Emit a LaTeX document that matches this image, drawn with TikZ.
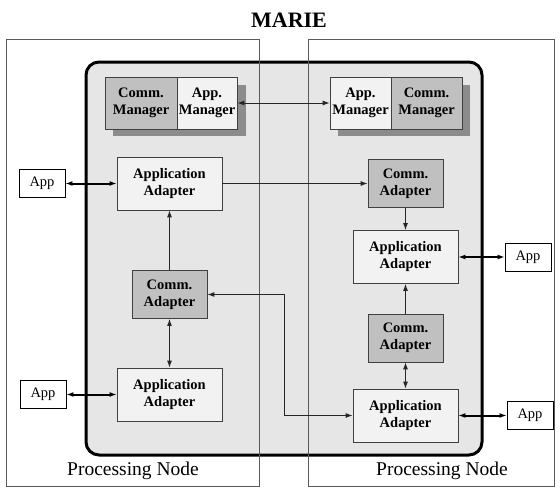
\documentclass[tikz,border=0pt]{standalone}
\usepackage{fontspec}
\setmainfont{Liberation Serif}
\usetikzlibrary{arrows.meta,positioning}
\definecolor{panel}{HTML}{E6E6E6}
\definecolor{commgray}{HTML}{C0C0C0}
\definecolor{appgray}{HTML}{F2F2F2}
\definecolor{shadowgray}{HTML}{8C8C8C}
\begin{document}
\begin{tikzpicture}[x=1pt,y=-1pt,>={Latex[length=7pt,width=5pt]},
 box/.style={draw=black!75,line width=0.8pt,align=center,inner sep=0pt,font=\fontsize{14.5}{17}\selectfont\bfseries},
 comm/.style={box,fill=commgray,minimum width=75pt,minimum height=48pt},
 adapter/.style={box,fill=appgray,minimum width=105pt,minimum height=53pt},
 manager/.style={box,minimum height=52pt},
 appbox/.style={draw,fill=white,line width=0.8pt,minimum width=46pt,minimum height=28pt,inner sep=0pt,font=\fontsize{14.5}{16}\selectfont},
 link/.style={line width=0.9pt,black!85},
 applink/.style={line width=2pt,<->},
 pnode/.style={draw=black!65,line width=0.8pt}]
 \useasboundingbox (0,0) rectangle (560,488);
 \node[font=\fontsize{22}{26}\selectfont\bfseries] (title) at (289,20) {MARIE};
 % MARIE panel and the two processing nodes
 \draw[line width=3pt,fill=panel,rounded corners=13pt] (86,62) rectangle (482,455);
 \draw[pnode] (6,39) rectangle (259,486);
 \draw[pnode] (308,39) rectangle (554,486);
 \node[font=\fontsize{19.5}{22}\selectfont] (pnL) at (133,471) {Processing Node};
 \node[font=\fontsize{19.5}{22}\selectfont] (pnR) at (442,471) {Processing Node};
 % managers
 \fill[shadowgray] (113,85) rectangle (246,136);
 \fill[shadowgray] (338,85) rectangle (470,136);
 \node[manager,fill=commgray,minimum width=72pt] (cmL) at (141,103) {Comm.\\Manager};
 \node[manager,fill=appgray,minimum width=60pt] (amL) at (207,103) {App.\\Manager};
 \node[manager,fill=appgray,minimum width=61pt] (amR) at (360.5,103) {App.\\Manager};
 \node[manager,fill=commgray,minimum width=71pt] (cmR) at (426.5,103) {Comm.\\Manager};
 % adapters
 \node[adapter] (aaTL) at (169.5,183.5) {Application\\Adapter};
 \node[comm] (caL) at (169.5,294.5) {Comm.\\Adapter};
 \node[adapter] (aaBL) at (169.5,394.5) {Application\\Adapter};
 \node[comm] (caR1) at (405.5,183.5) {Comm.\\Adapter};
 \node[adapter] (aaR1) at (405.5,257) {Application\\Adapter};
 \node[comm] (caR2) at (405.5,338) {Comm.\\Adapter};
 \node[adapter] (aaR2) at (405.5,415.5) {Application\\Adapter};
 % applications
 \node[appbox] (appTL) at (42,183.5) {App};
 \node[appbox] (appBL) at (43,394.5) {App};
 \node[appbox] (appR1) at (528,257) {App};
 \node[appbox] (appR2) at (530,415.5) {App};
 \coordinate (bend) at (284,0);
 % connections
 \draw[link,<->] (amL.east) -- (amR.west);
 \draw[link,->] (aaTL.east) -- (caR1.west);
 \draw[link,->] (caL.north) -- (aaTL.south);
 \draw[link,<->] (caL.south) -- (aaBL.north);
 \draw[link,->] (caR1.south) -- (aaR1.north);
 \draw[link,->] (caR2.north) -- (aaR1.south);
 \draw[link,<->] (caR2.south) -- (aaR2.north);
 \draw[link,<->] (caL.east) -| (bend |- aaR2.west) -- (aaR2.west);
 \foreach \a/\b in {appTL/aaTL,appBL/aaBL}\draw[applink] (\a.east) -- (\b.west);
 \foreach \a/\b in {aaR1/appR1,aaR2/appR2}\draw[applink] (\a.east) -- (\b.west);
\end{tikzpicture}
\end{document}
